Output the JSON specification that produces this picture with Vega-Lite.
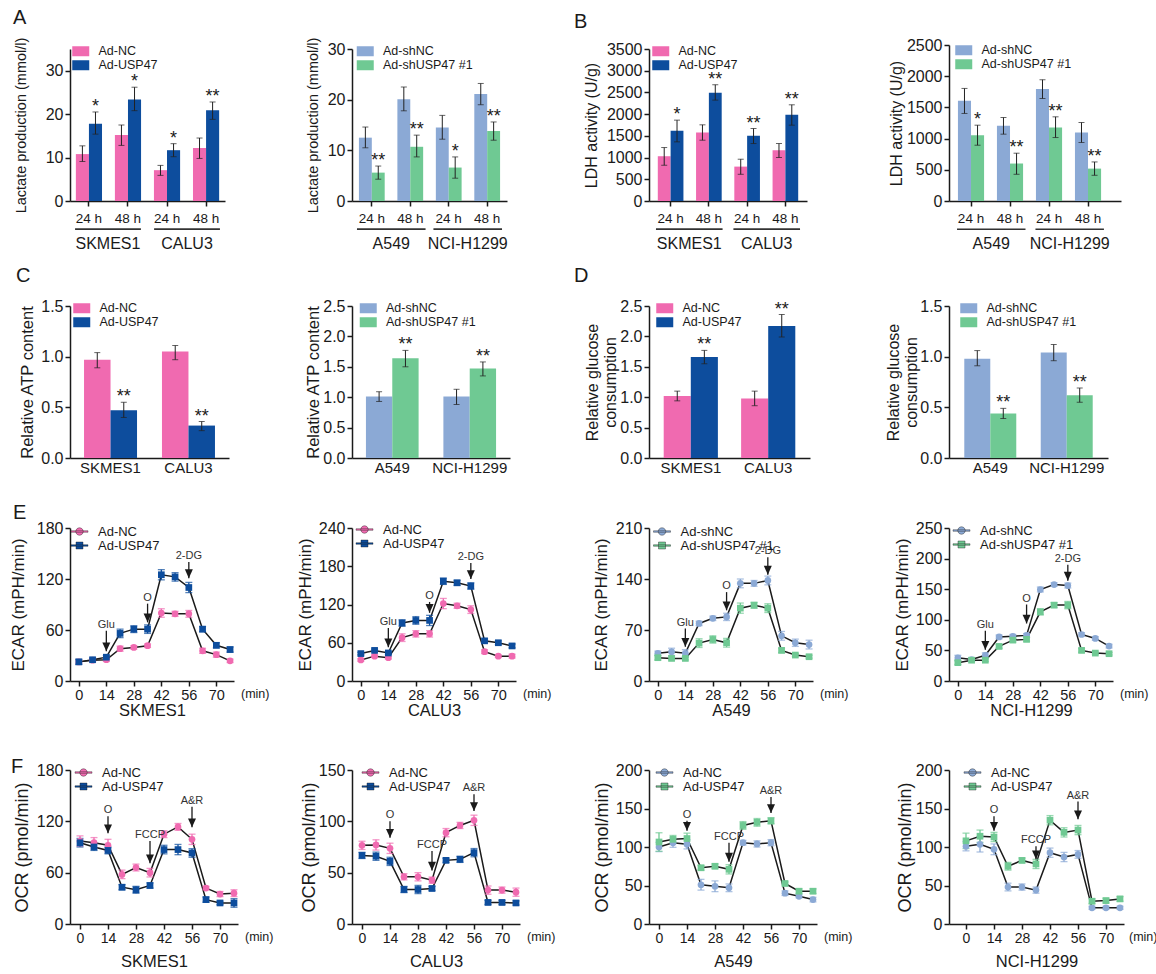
{
"$schema":"https://vega.github.io/schema/vega-lite/v6.json",
"background":"white",
"padding":{"left":9,"top":8,"right":0,"bottom":0},
"config":{
 "font":"Liberation Sans",
 "view":{"stroke":null},
 "axis":{"domainColor":"#1a1a1a","tickColor":"#1a1a1a","labelColor":"#1a1a1a","titleColor":"#1a1a1a","titleFontWeight":"normal","grid":false,"domainWidth":1.5,"tickWidth":1.5,"tickSize":5,"labelPadding":2,"labelFont":"Liberation Sans","titleFont":"Liberation Sans"},
 "axisX":{"labelOverlap":false},
 "legend":{"labelColor":"#1a1a1a","labelFont":"Liberation Sans","padding":0},
 "title":{"fontSize":20,"fontWeight":"normal","anchor":"start","frame":"group","offset":0,"baseline":"alphabetic","color":"#1a1a1a","align":"left"},
 "text":{"font":"Liberation Sans"}
},
"datasets":{
 "A1":[
  {"cat":"SKMES1 24 h","grp":"Ad-NC","mean":10.8,"lo":9.1,"hi":12.7,"sig":""},
  {"cat":"SKMES1 24 h","grp":"Ad-USP47","mean":17.8,"lo":15.4,"hi":20.5,"sig":"*"},
  {"cat":"SKMES1 48 h","grp":"Ad-NC","mean":15.2,"lo":12.8,"hi":17.5,"sig":""},
  {"cat":"SKMES1 48 h","grp":"Ad-USP47","mean":23.4,"lo":20.8,"hi":26.2,"sig":"*"},
  {"cat":"CALU3 24 h","grp":"Ad-NC","mean":7.1,"lo":5.9,"hi":8.2,"sig":""},
  {"cat":"CALU3 24 h","grp":"Ad-USP47","mean":11.7,"lo":10.2,"hi":13.2,"sig":"*"},
  {"cat":"CALU3 48 h","grp":"Ad-NC","mean":12.2,"lo":9.8,"hi":14.5,"sig":""},
  {"cat":"CALU3 48 h","grp":"Ad-USP47","mean":20.9,"lo":18.8,"hi":22.8,"sig":"**"}
 ],
 "A2":[
  {"cat":"A549 24 h","grp":"Ad-shNC","mean":12.5,"lo":10.5,"hi":14.6,"sig":""},
  {"cat":"A549 24 h","grp":"Ad-shUSP47 #1","mean":5.6,"lo":4.3,"hi":6.9,"sig":"**"},
  {"cat":"A549 48 h","grp":"Ad-shNC","mean":20.1,"lo":17.8,"hi":22.5,"sig":""},
  {"cat":"A549 48 h","grp":"Ad-shUSP47 #1","mean":10.7,"lo":8.7,"hi":13.0,"sig":"**"},
  {"cat":"NCI-H1299 24 h","grp":"Ad-shNC","mean":14.5,"lo":12.2,"hi":16.9,"sig":""},
  {"cat":"NCI-H1299 24 h","grp":"Ad-shUSP47 #1","mean":6.6,"lo":4.5,"hi":8.7,"sig":"*"},
  {"cat":"NCI-H1299 48 h","grp":"Ad-shNC","mean":21.1,"lo":19.0,"hi":23.2,"sig":""},
  {"cat":"NCI-H1299 48 h","grp":"Ad-shUSP47 #1","mean":13.8,"lo":12.0,"hi":15.6,"sig":"**"}
 ],
 "B1":[
  {"cat":"SKMES1 24 h","grp":"Ad-NC","mean":1031,"lo":823,"hi":1231,"sig":""},
  {"cat":"SKMES1 24 h","grp":"Ad-USP47","mean":1615,"lo":1362,"hi":1862,"sig":"*"},
  {"cat":"SKMES1 48 h","grp":"Ad-NC","mean":1577,"lo":1400,"hi":1754,"sig":""},
  {"cat":"SKMES1 48 h","grp":"Ad-USP47","mean":2492,"lo":2323,"hi":2677,"sig":"**"},
  {"cat":"CALU3 24 h","grp":"Ad-NC","mean":792,"lo":615,"hi":962,"sig":""},
  {"cat":"CALU3 24 h","grp":"Ad-USP47","mean":1500,"lo":1323,"hi":1669,"sig":"**"},
  {"cat":"CALU3 48 h","grp":"Ad-NC","mean":1169,"lo":1000,"hi":1323,"sig":""},
  {"cat":"CALU3 48 h","grp":"Ad-USP47","mean":1985,"lo":1746,"hi":2215,"sig":"**"}
 ],
 "B2":[
  {"cat":"A549 24 h","grp":"Ad-shNC","mean":1606,"lo":1403,"hi":1804,"sig":""},
  {"cat":"A549 24 h","grp":"Ad-shUSP47 #1","mean":1055,"lo":894,"hi":1215,"sig":"*"},
  {"cat":"A549 48 h","grp":"Ad-shNC","mean":1204,"lo":1071,"hi":1338,"sig":""},
  {"cat":"A549 48 h","grp":"Ad-shUSP47 #1","mean":600,"lo":428,"hi":766,"sig":"**"},
  {"cat":"NCI-H1299 24 h","grp":"Ad-shNC","mean":1793,"lo":1643,"hi":1943,"sig":""},
  {"cat":"NCI-H1299 24 h","grp":"Ad-shUSP47 #1","mean":1178,"lo":1017,"hi":1349,"sig":"**"},
  {"cat":"NCI-H1299 48 h","grp":"Ad-shNC","mean":1097,"lo":937,"hi":1258,"sig":""},
  {"cat":"NCI-H1299 48 h","grp":"Ad-shUSP47 #1","mean":519,"lo":412,"hi":626,"sig":"**"}
 ],
 "C1":[
  {"cell":"SKMES1","grp":"Ad-NC","mean":0.97,"lo":0.89,"hi":1.04,"sig":""},
  {"cell":"SKMES1","grp":"Ad-USP47","mean":0.47,"lo":0.40,"hi":0.55,"sig":"**"},
  {"cell":"CALU3","grp":"Ad-NC","mean":1.05,"lo":0.97,"hi":1.11,"sig":""},
  {"cell":"CALU3","grp":"Ad-USP47","mean":0.32,"lo":0.27,"hi":0.36,"sig":"**"}
 ],
 "C2":[
  {"cell":"A549","grp":"Ad-shNC","mean":1.01,"lo":0.93,"hi":1.09,"sig":""},
  {"cell":"A549","grp":"Ad-shUSP47 #1","mean":1.64,"lo":1.50,"hi":1.77,"sig":"**"},
  {"cell":"NCI-H1299","grp":"Ad-shNC","mean":1.01,"lo":0.88,"hi":1.13,"sig":""},
  {"cell":"NCI-H1299","grp":"Ad-shUSP47 #1","mean":1.47,"lo":1.35,"hi":1.58,"sig":"**"}
 ],
 "D1":[
  {"cell":"SKMES1","grp":"Ad-NC","mean":1.02,"lo":0.94,"hi":1.10,"sig":""},
  {"cell":"SKMES1","grp":"Ad-USP47","mean":1.66,"lo":1.55,"hi":1.77,"sig":"**"},
  {"cell":"CALU3","grp":"Ad-NC","mean":0.98,"lo":0.86,"hi":1.10,"sig":""},
  {"cell":"CALU3","grp":"Ad-USP47","mean":2.17,"lo":1.99,"hi":2.36,"sig":"**"}
 ],
 "D2":[
  {"cell":"A549","grp":"Ad-shNC","mean":0.98,"lo":0.91,"hi":1.06,"sig":""},
  {"cell":"A549","grp":"Ad-shUSP47 #1","mean":0.44,"lo":0.39,"hi":0.49,"sig":"**"},
  {"cell":"NCI-H1299","grp":"Ad-shNC","mean":1.04,"lo":0.96,"hi":1.12,"sig":""},
  {"cell":"NCI-H1299","grp":"Ad-shUSP47 #1","mean":0.62,"lo":0.55,"hi":0.69,"sig":"**"}
 ],
 "E1":[
  {"t":0,"s":"Ad-NC","m":22.5,"lo":20.5,"hi":24.5},{"t":7,"s":"Ad-NC","m":24.5,"lo":22.5,"hi":26.5},{"t":14,"s":"Ad-NC","m":25,"lo":23,"hi":27},{"t":21,"s":"Ad-NC","m":38,"lo":35,"hi":41},{"t":28,"s":"Ad-NC","m":39.5,"lo":37.5,"hi":41.5},{"t":35,"s":"Ad-NC","m":41.5,"lo":39.5,"hi":43.5},{"t":42,"s":"Ad-NC","m":80,"lo":75,"hi":85},{"t":49,"s":"Ad-NC","m":79,"lo":76,"hi":82},{"t":56,"s":"Ad-NC","m":79,"lo":75,"hi":83},{"t":63,"s":"Ad-NC","m":35.5,"lo":32.5,"hi":38.5},{"t":70,"s":"Ad-NC","m":31,"lo":28,"hi":34},{"t":77,"s":"Ad-NC","m":23.7,"lo":21.7,"hi":25.7},
  {"t":0,"s":"Ad-USP47","m":22.5,"lo":19.5,"hi":25.5},{"t":7,"s":"Ad-USP47","m":25,"lo":23,"hi":27},{"t":14,"s":"Ad-USP47","m":28,"lo":26,"hi":30},{"t":21,"s":"Ad-USP47","m":56,"lo":51,"hi":61},{"t":28,"s":"Ad-USP47","m":61,"lo":57,"hi":65},{"t":35,"s":"Ad-USP47","m":61,"lo":56,"hi":66},{"t":42,"s":"Ad-USP47","m":125,"lo":119,"hi":131},{"t":49,"s":"Ad-USP47","m":122.5,"lo":117.5,"hi":127.5},{"t":56,"s":"Ad-USP47","m":110,"lo":104,"hi":116},{"t":63,"s":"Ad-USP47","m":61,"lo":58,"hi":64},{"t":70,"s":"Ad-USP47","m":42,"lo":39,"hi":45},{"t":77,"s":"Ad-USP47","m":37,"lo":34,"hi":40}
 ],
 "E2":[
  {"t":0,"s":"Ad-NC","m":33,"lo":31,"hi":35},{"t":7,"s":"Ad-NC","m":39,"lo":37,"hi":41},{"t":14,"s":"Ad-NC","m":36.5,"lo":34.5,"hi":38.5},{"t":21,"s":"Ad-NC","m":68,"lo":62,"hi":74},{"t":28,"s":"Ad-NC","m":74,"lo":69,"hi":79},{"t":35,"s":"Ad-NC","m":74,"lo":69,"hi":79},{"t":42,"s":"Ad-NC","m":121.5,"lo":113.5,"hi":129.5},{"t":49,"s":"Ad-NC","m":118,"lo":114,"hi":122},{"t":56,"s":"Ad-NC","m":112,"lo":106,"hi":118},{"t":63,"s":"Ad-NC","m":46,"lo":43,"hi":49},{"t":70,"s":"Ad-NC","m":39,"lo":37,"hi":41},{"t":77,"s":"Ad-NC","m":39,"lo":36,"hi":42},
  {"t":0,"s":"Ad-USP47","m":43,"lo":41,"hi":45},{"t":7,"s":"Ad-USP47","m":48,"lo":46,"hi":50},{"t":14,"s":"Ad-USP47","m":44,"lo":42,"hi":46},{"t":21,"s":"Ad-USP47","m":91,"lo":86,"hi":96},{"t":28,"s":"Ad-USP47","m":95,"lo":89,"hi":101},{"t":35,"s":"Ad-USP47","m":95,"lo":87,"hi":103},{"t":42,"s":"Ad-USP47","m":156.5,"lo":151.5,"hi":161.5},{"t":49,"s":"Ad-USP47","m":154,"lo":150,"hi":158},{"t":56,"s":"Ad-USP47","m":149,"lo":144,"hi":154},{"t":63,"s":"Ad-USP47","m":63,"lo":60,"hi":66},{"t":70,"s":"Ad-USP47","m":60,"lo":57,"hi":63},{"t":77,"s":"Ad-USP47","m":55,"lo":52,"hi":58}
 ],
 "E3":[
  {"t":0,"s":"Ad-shNC","m":38,"lo":35,"hi":41},{"t":7,"s":"Ad-shNC","m":40,"lo":35,"hi":45},{"t":14,"s":"Ad-shNC","m":38,"lo":33,"hi":43},{"t":21,"s":"Ad-shNC","m":79,"lo":76,"hi":82},{"t":28,"s":"Ad-shNC","m":86,"lo":83,"hi":89},{"t":35,"s":"Ad-shNC","m":88,"lo":83,"hi":93},{"t":42,"s":"Ad-shNC","m":134,"lo":128,"hi":140},{"t":49,"s":"Ad-shNC","m":134,"lo":130,"hi":138},{"t":56,"s":"Ad-shNC","m":138,"lo":132,"hi":144},{"t":63,"s":"Ad-shNC","m":62,"lo":56,"hi":68},{"t":70,"s":"Ad-shNC","m":52.5,"lo":47.5,"hi":57.5},{"t":77,"s":"Ad-shNC","m":50,"lo":44,"hi":56},
  {"t":0,"s":"Ad-shUSP47 #1","m":32,"lo":29,"hi":35},{"t":7,"s":"Ad-shUSP47 #1","m":31,"lo":29,"hi":33},{"t":14,"s":"Ad-shUSP47 #1","m":31,"lo":29,"hi":33},{"t":21,"s":"Ad-shUSP47 #1","m":52,"lo":46,"hi":58},{"t":28,"s":"Ad-shUSP47 #1","m":57,"lo":52,"hi":62},{"t":35,"s":"Ad-shUSP47 #1","m":52.5,"lo":46.5,"hi":58.5},{"t":42,"s":"Ad-shUSP47 #1","m":100,"lo":93,"hi":107},{"t":49,"s":"Ad-shUSP47 #1","m":104,"lo":100,"hi":108},{"t":56,"s":"Ad-shUSP47 #1","m":100,"lo":94,"hi":106},{"t":63,"s":"Ad-shUSP47 #1","m":42,"lo":39,"hi":45},{"t":70,"s":"Ad-shUSP47 #1","m":35.6,"lo":33.6,"hi":37.6},{"t":77,"s":"Ad-shUSP47 #1","m":33.3,"lo":31.3,"hi":35.3}
 ],
 "E4":[
  {"t":0,"s":"Ad-shNC","m":38,"lo":34,"hi":42},{"t":7,"s":"Ad-shNC","m":35,"lo":32,"hi":38},{"t":14,"s":"Ad-shNC","m":42,"lo":38,"hi":46},{"t":21,"s":"Ad-shNC","m":72,"lo":69,"hi":75},{"t":28,"s":"Ad-shNC","m":73,"lo":70,"hi":76},{"t":35,"s":"Ad-shNC","m":74.5,"lo":71.5,"hi":77.5},{"t":42,"s":"Ad-shNC","m":149.5,"lo":145.5,"hi":153.5},{"t":49,"s":"Ad-shNC","m":157.6,"lo":154.6,"hi":160.6},{"t":56,"s":"Ad-shNC","m":156,"lo":152,"hi":160},{"t":63,"s":"Ad-shNC","m":76,"lo":73,"hi":79},{"t":70,"s":"Ad-shNC","m":69.5,"lo":66.5,"hi":72.5},{"t":77,"s":"Ad-shNC","m":57,"lo":54,"hi":60},
  {"t":0,"s":"Ad-shUSP47 #1","m":30,"lo":27,"hi":33},{"t":7,"s":"Ad-shUSP47 #1","m":34,"lo":32,"hi":36},{"t":14,"s":"Ad-shUSP47 #1","m":34,"lo":32,"hi":36},{"t":21,"s":"Ad-shUSP47 #1","m":56.5,"lo":53.5,"hi":59.5},{"t":28,"s":"Ad-shUSP47 #1","m":66.8,"lo":63.8,"hi":69.8},{"t":35,"s":"Ad-shUSP47 #1","m":68,"lo":65,"hi":71},{"t":42,"s":"Ad-shUSP47 #1","m":113,"lo":108,"hi":118},{"t":49,"s":"Ad-shUSP47 #1","m":124,"lo":120,"hi":128},{"t":56,"s":"Ad-shUSP47 #1","m":124,"lo":118,"hi":130},{"t":63,"s":"Ad-shUSP47 #1","m":50,"lo":47,"hi":53},{"t":70,"s":"Ad-shUSP47 #1","m":45.6,"lo":43.6,"hi":47.6},{"t":77,"s":"Ad-shUSP47 #1","m":44.6,"lo":42.6,"hi":46.6}
 ],
 "F1":[
  {"t":0,"s":"Ad-NC","m":97,"lo":91,"hi":103},{"t":7,"s":"Ad-NC","m":95,"lo":89,"hi":101},{"t":14,"s":"Ad-NC","m":92,"lo":85,"hi":99},{"t":21,"s":"Ad-NC","m":58,"lo":53,"hi":63},{"t":28,"s":"Ad-NC","m":66,"lo":62,"hi":70},{"t":35,"s":"Ad-NC","m":60,"lo":55,"hi":65},{"t":42,"s":"Ad-NC","m":105,"lo":101,"hi":109},{"t":49,"s":"Ad-NC","m":113.5,"lo":109.5,"hi":117.5},{"t":56,"s":"Ad-NC","m":99,"lo":93,"hi":105},{"t":63,"s":"Ad-NC","m":42,"lo":40,"hi":44},{"t":70,"s":"Ad-NC","m":35,"lo":32,"hi":38},{"t":77,"s":"Ad-NC","m":36,"lo":32,"hi":40},
  {"t":0,"s":"Ad-USP47","m":95,"lo":90,"hi":100},{"t":7,"s":"Ad-USP47","m":90,"lo":86,"hi":94},{"t":14,"s":"Ad-USP47","m":86,"lo":82,"hi":90},{"t":21,"s":"Ad-USP47","m":43,"lo":40,"hi":46},{"t":28,"s":"Ad-USP47","m":40,"lo":36,"hi":44},{"t":35,"s":"Ad-USP47","m":45,"lo":42,"hi":48},{"t":42,"s":"Ad-USP47","m":87,"lo":82,"hi":92},{"t":49,"s":"Ad-USP47","m":87,"lo":81,"hi":93},{"t":56,"s":"Ad-USP47","m":83,"lo":78,"hi":88},{"t":63,"s":"Ad-USP47","m":28.5,"lo":25.5,"hi":31.5},{"t":70,"s":"Ad-USP47","m":24.6,"lo":22.6,"hi":26.6},{"t":77,"s":"Ad-USP47","m":24.6,"lo":19.6,"hi":29.6}
 ],
 "F2":[
  {"t":0,"s":"Ad-NC","m":76.6,"lo":72.6,"hi":80.6},{"t":7,"s":"Ad-NC","m":77,"lo":72,"hi":82},{"t":14,"s":"Ad-NC","m":73.7,"lo":68.7,"hi":78.7},{"t":21,"s":"Ad-NC","m":46,"lo":43,"hi":49},{"t":28,"s":"Ad-NC","m":46,"lo":42,"hi":50},{"t":35,"s":"Ad-NC","m":42.7,"lo":39.7,"hi":45.7},{"t":42,"s":"Ad-NC","m":89,"lo":85,"hi":93},{"t":49,"s":"Ad-NC","m":96,"lo":93,"hi":99},{"t":56,"s":"Ad-NC","m":101,"lo":96,"hi":106},{"t":63,"s":"Ad-NC","m":33,"lo":29,"hi":37},{"t":70,"s":"Ad-NC","m":33,"lo":30,"hi":36},{"t":77,"s":"Ad-NC","m":31,"lo":27,"hi":35},
  {"t":0,"s":"Ad-USP47","m":66.8,"lo":63.8,"hi":69.8},{"t":7,"s":"Ad-USP47","m":66,"lo":62,"hi":70},{"t":14,"s":"Ad-USP47","m":61,"lo":57,"hi":65},{"t":21,"s":"Ad-USP47","m":33.6,"lo":30.6,"hi":36.6},{"t":28,"s":"Ad-USP47","m":33.6,"lo":29.6,"hi":37.6},{"t":35,"s":"Ad-USP47","m":34.6,"lo":32.6,"hi":36.6},{"t":42,"s":"Ad-USP47","m":62,"lo":60,"hi":64},{"t":49,"s":"Ad-USP47","m":63,"lo":60,"hi":66},{"t":56,"s":"Ad-USP47","m":69.5,"lo":65.5,"hi":73.5},{"t":63,"s":"Ad-USP47","m":21,"lo":19,"hi":23},{"t":70,"s":"Ad-USP47","m":21,"lo":19,"hi":23},{"t":77,"s":"Ad-USP47","m":20.5,"lo":18.5,"hi":22.5}
 ],
 "F3":[
  {"t":0,"s":"Ad-NC","m":100,"lo":94,"hi":106},{"t":7,"s":"Ad-NC","m":105.6,"lo":99.6,"hi":111.6},{"t":14,"s":"Ad-NC","m":103.5,"lo":97.5,"hi":109.5},{"t":21,"s":"Ad-NC","m":51,"lo":44,"hi":58},{"t":28,"s":"Ad-NC","m":49,"lo":42,"hi":56},{"t":35,"s":"Ad-NC","m":47,"lo":42,"hi":52},{"t":42,"s":"Ad-NC","m":105.6,"lo":102.6,"hi":108.6},{"t":49,"s":"Ad-NC","m":104,"lo":100,"hi":108},{"t":56,"s":"Ad-NC","m":105.6,"lo":101.6,"hi":109.6},{"t":63,"s":"Ad-NC","m":40,"lo":37,"hi":43},{"t":70,"s":"Ad-NC","m":36,"lo":34,"hi":38},{"t":77,"s":"Ad-NC","m":31.7,"lo":28.7,"hi":34.7},
  {"t":0,"s":"Ad-USP47","m":106.5,"lo":94.5,"hi":118.5},{"t":7,"s":"Ad-USP47","m":110,"lo":105,"hi":115},{"t":14,"s":"Ad-USP47","m":111,"lo":104,"hi":118},{"t":21,"s":"Ad-USP47","m":73,"lo":70,"hi":76},{"t":28,"s":"Ad-USP47","m":75,"lo":72,"hi":78},{"t":35,"s":"Ad-USP47","m":71,"lo":65,"hi":77},{"t":42,"s":"Ad-USP47","m":128,"lo":123,"hi":133},{"t":49,"s":"Ad-USP47","m":132,"lo":127,"hi":137},{"t":56,"s":"Ad-USP47","m":134,"lo":130,"hi":138},{"t":63,"s":"Ad-USP47","m":52.6,"lo":50.6,"hi":54.6},{"t":70,"s":"Ad-USP47","m":42.6,"lo":39.6,"hi":45.6},{"t":77,"s":"Ad-USP47","m":42.6,"lo":39.6,"hi":45.6}
 ],
 "F4":[
  {"t":0,"s":"Ad-NC","m":101,"lo":95,"hi":107},{"t":7,"s":"Ad-NC","m":103.5,"lo":93.5,"hi":113.5},{"t":14,"s":"Ad-NC","m":97,"lo":90,"hi":104},{"t":21,"s":"Ad-NC","m":48,"lo":43,"hi":53},{"t":28,"s":"Ad-NC","m":48,"lo":44,"hi":52},{"t":35,"s":"Ad-NC","m":44,"lo":40,"hi":48},{"t":42,"s":"Ad-NC","m":92.6,"lo":86.6,"hi":98.6},{"t":49,"s":"Ad-NC","m":87,"lo":81,"hi":93},{"t":56,"s":"Ad-NC","m":90.4,"lo":85.4,"hi":95.4},{"t":63,"s":"Ad-NC","m":21,"lo":19,"hi":23},{"t":70,"s":"Ad-NC","m":21,"lo":19,"hi":23},{"t":77,"s":"Ad-NC","m":21,"lo":19,"hi":23},
  {"t":0,"s":"Ad-USP47","m":108,"lo":98,"hi":118},{"t":7,"s":"Ad-USP47","m":114,"lo":106,"hi":122},{"t":14,"s":"Ad-USP47","m":113,"lo":107,"hi":119},{"t":21,"s":"Ad-USP47","m":75,"lo":70,"hi":80},{"t":28,"s":"Ad-USP47","m":82.6,"lo":79.6,"hi":85.6},{"t":35,"s":"Ad-USP47","m":78,"lo":72,"hi":84},{"t":42,"s":"Ad-USP47","m":134.8,"lo":128.8,"hi":140.8},{"t":49,"s":"Ad-USP47","m":119,"lo":113,"hi":125},{"t":56,"s":"Ad-USP47","m":122,"lo":116,"hi":128},{"t":63,"s":"Ad-USP47","m":29.6,"lo":26.6,"hi":32.6},{"t":70,"s":"Ad-USP47","m":30.4,"lo":27.4,"hi":33.4},{"t":77,"s":"Ad-USP47","m":32.6,"lo":29.6,"hi":35.6}
 ],
 "E1a":[{"t":14,"label":"Glu","ytop":59,"ybot":35},{"t":35,"label":"O","ytop":91,"ybot":69},{"t":56,"label":"2-DG","ytop":140,"ybot":121}],
 "E2a":[{"t":14,"label":"Glu","ytop":83,"ybot":53},{"t":35,"label":"O","ytop":124,"ybot":107},{"t":56,"label":"2-DG","ytop":185,"ybot":160}],
 "E3a":[{"t":14,"label":"Glu","ytop":72,"ybot":47},{"t":35,"label":"O","ytop":122,"ybot":97},{"t":56,"label":"2-DG","ytop":170,"ybot":146}],
 "E4a":[{"t":14,"label":"Glu","ytop":82,"ybot":51},{"t":35,"label":"O","ytop":125,"ybot":94},{"t":56,"label":"2-DG","ytop":190,"ybot":164}],
 "F1a":[{"t":14,"label":"O","ytop":126,"ybot":106},{"t":35,"label":"FCCP","ytop":97,"ybot":71},{"t":56,"label":"A&R","ytop":137,"ybot":113}],
 "F2a":[{"t":14,"label":"O","ytop":100,"ybot":84},{"t":35,"label":"FCCP","ytop":71,"ybot":52},{"t":56,"label":"A&R","ytop":126.5,"ybot":110}],
 "F3a":[{"t":14,"label":"O","ytop":134,"ybot":121},{"t":35,"label":"FCCP","ytop":105.6,"ybot":81},{"t":56,"label":"A&R","ytop":165,"ybot":144}],
 "F4a":[{"t":14,"label":"O","ytop":140,"ybot":121},{"t":35,"label":"FCCP","ytop":101,"ybot":84},{"t":56,"label":"A&R","ytop":159,"ybot":136}]
},
"columns":4,
"spacing":{"row":0,"column":0},
"bounds":"flush",
"align":"each",
"resolve":{"scale":{"color":"independent","shape":"independent","xOffset":"independent"},"legend":{"color":"independent","shape":"independent"}},
"concat":[
 {
  "width":282,"height":156,
  "title":{"text":"A","dx":-57,"dy":-5},
  "layer":[
   {
    "data":{"name":"A1"},
    "encoding":{
     "x":{"field":"cat","type":"nominal","scale":{"domain":["SKMES1 24 h","SKMES1 48 h","CALU3 24 h","CALU3 48 h"],"range":[0,155],"paddingInner":0.33,"paddingOuter":0.15},"axis":{"orient":"bottom","title":null,"labelExpr":"slice(datum.label, -4)","labelAngle":0,"labelFontSize":13.5,"labelPadding":5}},
     "xOffset":{"field":"grp","type":"nominal","scale":{"domain":["Ad-NC","Ad-USP47"]}}
    },
    "layer":[
     {"mark":{"type":"bar"},"encoding":{"y":{"field":"mean","type":"quantitative","scale":{"domain":[0,35],"range":[156,4],"nice":false},"axis":{"values":[0,10,20,30],"tickCount":20,"title":"Lactate production (mmol/l)","titleFontSize":14.5,"labelFontSize":16,"minExtent":41.5,"maxExtent":41.5,"titlePadding":0}},"color":{"field":"grp","type":"nominal","scale":{"domain":["Ad-NC","Ad-USP47"],"range":["#F06AB0","#0D4D9D"]},"legend":{"orient":"none","legendX":4.5,"legendY":0,"title":null,"symbolType":"M-1.7,-1H1.7V1H-1.7Z","symbolSize":100,"labelFontSize":12.5,"labelOffset":11.5,"rowPadding":1,"symbolStrokeWidth":0}}}},
     {"mark":{"type":"rule","color":"#222","strokeWidth":1},"encoding":{"y":{"field":"lo","type":"quantitative"},"y2":{"field":"hi"}}},
     {"mark":{"type":"tick","orient":"horizontal","size":6,"thickness":1,"color":"#222"},"encoding":{"y":{"field":"lo","type":"quantitative"}}},
     {"mark":{"type":"tick","orient":"horizontal","size":6,"thickness":1,"color":"#222"},"encoding":{"y":{"field":"hi","type":"quantitative"}}},
     {"mark":{"type":"text","baseline":"alphabetic","fontSize":18,"color":"#1a1a1a"},"encoding":{"y":{"field":"hi","type":"quantitative"},"text":{"field":"sig"}}}
    ]
   },
   {
    "data":{"values":[{"cell":"SKMES1"},{"cell":"CALU3"}]},
    "mark":{"type":"bar","color":"#333"},
    "encoding":{
     "x":{"field":"cell","type":"nominal","scale":{"domain":["SKMES1","CALU3"],"range":[0,155],"paddingInner":0.167,"paddingOuter":0.064},"axis":{"orient":"bottom","title":null,"domain":false,"ticks":false,"tickSize":0,"labelPadding":34,"labelAngle":0,"labelFontSize":16}},
     "y":{"datum":-6.3},"y2":{"datum":-6.65}
    }
   }
  ],
  "resolve":{"scale":{"x":"independent"},"axis":{"x":"independent"}}
 },
 {
  "width":297,"height":156,
  "layer":[
   {
    "data":{"name":"A2"},
    "encoding":{
     "x":{"field":"cat","type":"nominal","scale":{"domain":["A549 24 h","A549 48 h","NCI-H1299 24 h","NCI-H1299 48 h"],"range":[0,155],"paddingInner":0.33,"paddingOuter":0.18},"axis":{"orient":"bottom","title":null,"labelExpr":"slice(datum.label, -4)","labelAngle":0,"labelFontSize":13.5,"labelPadding":5}},
     "xOffset":{"field":"grp","type":"nominal","scale":{"domain":["Ad-shNC","Ad-shUSP47 #1"]}}
    },
    "layer":[
     {"mark":{"type":"bar"},"encoding":{"y":{"field":"mean","type":"quantitative","scale":{"domain":[0,30],"range":[156,4],"nice":false},"axis":{"values":[0,10,20,30],"tickCount":20,"title":"Lactate production (mmol/l)","titleFontSize":14.5,"labelFontSize":16,"minExtent":32,"maxExtent":32,"titlePadding":0}},"color":{"field":"grp","type":"nominal","scale":{"domain":["Ad-shNC","Ad-shUSP47 #1"],"range":["#8BA9D5","#6FC993"]},"legend":{"orient":"none","legendX":7,"legendY":0,"title":null,"symbolType":"M-1.7,-1H1.7V1H-1.7Z","symbolSize":100,"labelFontSize":12.5,"labelOffset":11.5,"rowPadding":1,"symbolStrokeWidth":0}}}},
     {"mark":{"type":"rule","color":"#222","strokeWidth":1},"encoding":{"y":{"field":"lo","type":"quantitative"},"y2":{"field":"hi"}}},
     {"mark":{"type":"tick","orient":"horizontal","size":6,"thickness":1,"color":"#222"},"encoding":{"y":{"field":"lo","type":"quantitative"}}},
     {"mark":{"type":"tick","orient":"horizontal","size":6,"thickness":1,"color":"#222"},"encoding":{"y":{"field":"hi","type":"quantitative"}}},
     {"mark":{"type":"text","baseline":"alphabetic","fontSize":18,"color":"#1a1a1a"},"encoding":{"y":{"field":"hi","type":"quantitative"},"text":{"field":"sig"}}}
    ]
   },
   {
    "data":{"values":[{"cell":"A549"},{"cell":"NCI-H1299"}]},
    "mark":{"type":"bar","color":"#333"},
    "encoding":{
     "x":{"field":"cell","type":"nominal","scale":{"domain":["A549","NCI-H1299"],"range":[0,155],"paddingInner":0.103,"paddingOuter":0.065},"axis":{"orient":"bottom","title":null,"domain":false,"ticks":false,"tickSize":0,"labelPadding":34,"labelAngle":0,"labelFontSize":16}},
     "y":{"datum":-5.4},"y2":{"datum":-5.7}
    }
   }
  ],
  "resolve":{"scale":{"x":"independent"},"axis":{"x":"independent"}}
 },
 {
  "width":300,"height":156,
  "title":{"text":"B","dx":-75,"dy":-5},
  "layer":[
   {
    "data":{"name":"B1"},
    "encoding":{
     "x":{"field":"cat","type":"nominal","scale":{"domain":["SKMES1 24 h","SKMES1 48 h","CALU3 24 h","CALU3 48 h"],"range":[0,158],"paddingInner":0.33,"paddingOuter":0.23},"axis":{"orient":"bottom","title":null,"labelExpr":"slice(datum.label, -4)","labelAngle":0,"labelFontSize":13.5,"labelPadding":5}},
     "xOffset":{"field":"grp","type":"nominal","scale":{"domain":["Ad-NC","Ad-USP47"]}}
    },
    "layer":[
     {"mark":{"type":"bar"},"encoding":{"y":{"field":"mean","type":"quantitative","scale":{"domain":[0,3500],"range":[156,4],"nice":false},"axis":{"values":[0,500,1000,1500,2000,2500,3000,3500],"tickCount":20,"format":"d","title":"LDH activity (U/g)","titleFontSize":16,"labelFontSize":16,"minExtent":50,"maxExtent":50,"titlePadding":0}},"color":{"field":"grp","type":"nominal","scale":{"domain":["Ad-NC","Ad-USP47"],"range":["#F06AB0","#0D4D9D"]},"legend":{"orient":"none","legendX":5.5,"legendY":0,"title":null,"symbolType":"M-1.7,-1H1.7V1H-1.7Z","symbolSize":100,"labelFontSize":12.5,"labelOffset":11.5,"rowPadding":1,"symbolStrokeWidth":0}}}},
     {"mark":{"type":"rule","color":"#222","strokeWidth":1},"encoding":{"y":{"field":"lo","type":"quantitative"},"y2":{"field":"hi"}}},
     {"mark":{"type":"tick","orient":"horizontal","size":6,"thickness":1,"color":"#222"},"encoding":{"y":{"field":"lo","type":"quantitative"}}},
     {"mark":{"type":"tick","orient":"horizontal","size":6,"thickness":1,"color":"#222"},"encoding":{"y":{"field":"hi","type":"quantitative"}}},
     {"mark":{"type":"text","baseline":"alphabetic","fontSize":18,"color":"#1a1a1a"},"encoding":{"y":{"field":"hi","type":"quantitative"},"text":{"field":"sig"}}}
    ]
   },
   {
    "data":{"values":[{"cell":"SKMES1"},{"cell":"CALU3"}]},
    "mark":{"type":"bar","color":"#333"},
    "encoding":{
     "x":{"field":"cell","type":"nominal","scale":{"domain":["SKMES1","CALU3"],"range":[0,158],"paddingInner":0.14,"paddingOuter":0.09},"axis":{"orient":"bottom","title":null,"domain":false,"ticks":false,"tickSize":0,"labelPadding":34,"labelAngle":0,"labelFontSize":16}},
     "y":{"datum":-630},"y2":{"datum":-665}
    }
   }
  ],
  "resolve":{"scale":{"x":"independent"},"axis":{"x":"independent"}}
 },
 {
  "width":175,"height":156,
  "layer":[
   {
    "data":{"name":"B2"},
    "encoding":{
     "x":{"field":"cat","type":"nominal","scale":{"domain":["A549 24 h","A549 48 h","NCI-H1299 24 h","NCI-H1299 48 h"],"range":[0,172],"paddingInner":0.33,"paddingOuter":0.37,"align":0.31},"axis":{"orient":"bottom","title":null,"labelExpr":"slice(datum.label, -4)","labelAngle":0,"labelFontSize":13.5,"labelPadding":5}},
     "xOffset":{"field":"grp","type":"nominal","scale":{"domain":["Ad-shNC","Ad-shUSP47 #1"]}}
    },
    "layer":[
     {"mark":{"type":"bar"},"encoding":{"y":{"field":"mean","type":"quantitative","scale":{"domain":[0,2500],"range":[156,0],"nice":false},"axis":{"values":[0,500,1000,1500,2000,2500],"tickCount":20,"format":"d","title":"LDH activity (U/g)","titleFontSize":16,"labelFontSize":16,"minExtent":45,"maxExtent":45,"titlePadding":0}},"color":{"field":"grp","type":"nominal","scale":{"domain":["Ad-shNC","Ad-shUSP47 #1"],"range":["#8BA9D5","#6FC993"]},"legend":{"orient":"none","legendX":8.5,"legendY":-1,"title":null,"symbolType":"M-1.7,-1H1.7V1H-1.7Z","symbolSize":100,"labelFontSize":12.5,"labelOffset":11.5,"rowPadding":1,"symbolStrokeWidth":0}}}},
     {"mark":{"type":"rule","color":"#222","strokeWidth":1},"encoding":{"y":{"field":"lo","type":"quantitative"},"y2":{"field":"hi"}}},
     {"mark":{"type":"tick","orient":"horizontal","size":6,"thickness":1,"color":"#222"},"encoding":{"y":{"field":"lo","type":"quantitative"}}},
     {"mark":{"type":"tick","orient":"horizontal","size":6,"thickness":1,"color":"#222"},"encoding":{"y":{"field":"hi","type":"quantitative"}}},
     {"mark":{"type":"text","baseline":"alphabetic","fontSize":18,"color":"#1a1a1a"},"encoding":{"y":{"field":"hi","type":"quantitative"},"text":{"field":"sig"}}}
    ]
   },
   {
    "data":{"values":[{"cell":"A549"},{"cell":"NCI-H1299"}]},
    "mark":{"type":"bar","color":"#333"},
    "encoding":{
     "x":{"field":"cell","type":"nominal","scale":{"domain":["A549","NCI-H1299"],"range":[0,172],"paddingInner":0.127,"paddingOuter":0.16,"align":0.32},"axis":{"orient":"bottom","title":null,"domain":false,"ticks":false,"tickSize":0,"labelPadding":34,"labelAngle":0,"labelFontSize":16}},
     "y":{"datum":-440},"y2":{"datum":-464}
    }
   }
  ],
  "resolve":{"scale":{"x":"independent"},"axis":{"x":"independent"}}
 },
 {
  "width":282,"height":257,
  "title":{"text":"C","dx":-54,"dy":89},
  "data":{"name":"C1"},
  "encoding":{
   "x":{"field":"cell","type":"nominal","scale":{"domain":["SKMES1","CALU3"],"range":[0,159],"paddingInner":0.32,"paddingOuter":0.18},"axis":{"title":null,"labelAngle":0,"ticks":false,"labelPadding":2,"labelFontSize":15}},
   "xOffset":{"field":"grp","type":"nominal","scale":{"domain":["Ad-NC","Ad-USP47"]}}
  },
  "layer":[
   {"mark":{"type":"bar"},"encoding":{"y":{"field":"mean","type":"quantitative","scale":{"domain":[0,1.5],"range":[257,105],"nice":false},"axis":{"values":[0,0.5,1,1.5],"tickCount":20,"format":".1f","title":"Relative ATP content","titleFontSize":16.5,"labelFontSize":16,"minExtent":35,"maxExtent":35,"titlePadding":0}},"color":{"field":"grp","type":"nominal","scale":{"domain":["Ad-NC","Ad-USP47"],"range":["#F06AB0","#0D4D9D"]},"legend":{"orient":"none","legendX":5.5,"legendY":101,"title":null,"symbolType":"M-1.7,-1H1.7V1H-1.7Z","symbolSize":100,"labelFontSize":12.5,"labelOffset":11.5,"rowPadding":1,"symbolStrokeWidth":0}}}},
   {"mark":{"type":"rule","color":"#222","strokeWidth":1},"encoding":{"y":{"field":"lo","type":"quantitative"},"y2":{"field":"hi"}}},
   {"mark":{"type":"tick","orient":"horizontal","size":6,"thickness":1,"color":"#222"},"encoding":{"y":{"field":"lo","type":"quantitative"}}},
   {"mark":{"type":"tick","orient":"horizontal","size":6,"thickness":1,"color":"#222"},"encoding":{"y":{"field":"hi","type":"quantitative"}}},
   {"mark":{"type":"text","baseline":"alphabetic","fontSize":18,"color":"#1a1a1a"},"encoding":{"y":{"field":"hi","type":"quantitative"},"text":{"field":"sig"}}}
  ]
 },
 {
  "width":297,"height":257,
  "data":{"name":"C2"},
  "encoding":{
   "x":{"field":"cell","type":"nominal","scale":{"domain":["A549","NCI-H1299"],"range":[0,158],"paddingInner":0.32,"paddingOuter":0.18},"axis":{"title":null,"labelAngle":0,"ticks":false,"labelPadding":2,"labelFontSize":15}},
   "xOffset":{"field":"grp","type":"nominal","scale":{"domain":["Ad-shNC","Ad-shUSP47 #1"]}}
  },
  "layer":[
   {"mark":{"type":"bar"},"encoding":{"y":{"field":"mean","type":"quantitative","scale":{"domain":[0,2.5],"range":[257,105],"nice":false},"axis":{"values":[0,0.5,1,1.5,2,2.5],"tickCount":20,"format":".1f","title":"Relative ATP content","titleFontSize":16.5,"labelFontSize":16,"minExtent":30.5,"maxExtent":30.5,"titlePadding":0}},"color":{"field":"grp","type":"nominal","scale":{"domain":["Ad-shNC","Ad-shUSP47 #1"],"range":["#8BA9D5","#6FC993"]},"legend":{"orient":"none","legendX":10,"legendY":101,"title":null,"symbolType":"M-1.7,-1H1.7V1H-1.7Z","symbolSize":100,"labelFontSize":12.5,"labelOffset":11.5,"rowPadding":1,"symbolStrokeWidth":0}}}},
   {"mark":{"type":"rule","color":"#222","strokeWidth":1},"encoding":{"y":{"field":"lo","type":"quantitative"},"y2":{"field":"hi"}}},
   {"mark":{"type":"tick","orient":"horizontal","size":6,"thickness":1,"color":"#222"},"encoding":{"y":{"field":"lo","type":"quantitative"}}},
   {"mark":{"type":"tick","orient":"horizontal","size":6,"thickness":1,"color":"#222"},"encoding":{"y":{"field":"hi","type":"quantitative"}}},
   {"mark":{"type":"text","baseline":"alphabetic","fontSize":18,"color":"#1a1a1a"},"encoding":{"y":{"field":"hi","type":"quantitative"},"text":{"field":"sig"}}}
  ]
 },
 {
  "width":300,"height":257,
  "title":{"text":"D","dx":-75,"dy":89},
  "data":{"name":"D1"},
  "encoding":{
   "x":{"field":"cell","type":"nominal","scale":{"domain":["SKMES1","CALU3"],"range":[0,161],"paddingInner":0.3,"paddingOuter":0.19},"axis":{"title":null,"labelAngle":0,"ticks":false,"labelPadding":2,"labelFontSize":15}},
   "xOffset":{"field":"grp","type":"nominal","scale":{"domain":["Ad-NC","Ad-USP47"]}}
  },
  "layer":[
   {"mark":{"type":"bar"},"encoding":{"y":{"field":"mean","type":"quantitative","scale":{"domain":[0,2.5],"range":[257,105],"nice":false},"axis":{"values":[0,0.5,1,1.5,2,2.5],"tickCount":20,"format":".1f","title":["Relative glucose","consumption"],"titleLineHeight":18,"titleFontSize":16,"labelFontSize":16,"minExtent":31,"maxExtent":31,"titlePadding":0}},"color":{"field":"grp","type":"nominal","scale":{"domain":["Ad-NC","Ad-USP47"],"range":["#F06AB0","#0D4D9D"]},"legend":{"orient":"none","legendX":9.5,"legendY":101,"title":null,"symbolType":"M-1.7,-1H1.7V1H-1.7Z","symbolSize":100,"labelFontSize":12.5,"labelOffset":11.5,"rowPadding":1,"symbolStrokeWidth":0}}}},
   {"mark":{"type":"rule","color":"#222","strokeWidth":1},"encoding":{"y":{"field":"lo","type":"quantitative"},"y2":{"field":"hi"}}},
   {"mark":{"type":"tick","orient":"horizontal","size":6,"thickness":1,"color":"#222"},"encoding":{"y":{"field":"lo","type":"quantitative"}}},
   {"mark":{"type":"tick","orient":"horizontal","size":6,"thickness":1,"color":"#222"},"encoding":{"y":{"field":"hi","type":"quantitative"}}},
   {"mark":{"type":"text","baseline":"alphabetic","fontSize":18,"color":"#1a1a1a"},"encoding":{"y":{"field":"hi","type":"quantitative"},"text":{"field":"sig"}}}
  ]
 },
 {
  "width":175,"height":257,
  "data":{"name":"D2"},
  "encoding":{
   "x":{"field":"cell","type":"nominal","scale":{"domain":["A549","NCI-H1299"],"range":[0,159],"paddingInner":0.32,"paddingOuter":0.2},"axis":{"title":null,"labelAngle":0,"ticks":false,"labelPadding":2,"labelFontSize":15}},
   "xOffset":{"field":"grp","type":"nominal","scale":{"domain":["Ad-shNC","Ad-shUSP47 #1"]}}
  },
  "layer":[
   {"mark":{"type":"bar"},"encoding":{"y":{"field":"mean","type":"quantitative","scale":{"domain":[0,1.5],"range":[257,105],"nice":false},"axis":{"values":[0,0.5,1,1.5],"tickCount":20,"format":".1f","title":["Relative glucose","consumption"],"titleLineHeight":18,"titleFontSize":16,"labelFontSize":16,"minExtent":30,"maxExtent":30,"titlePadding":0}},"color":{"field":"grp","type":"nominal","scale":{"domain":["Ad-shNC","Ad-shUSP47 #1"],"range":["#8BA9D5","#6FC993"]},"legend":{"orient":"none","legendX":13.5,"legendY":101,"title":null,"symbolType":"M-1.7,-1H1.7V1H-1.7Z","symbolSize":100,"labelFontSize":12.5,"labelOffset":11.5,"rowPadding":1,"symbolStrokeWidth":0}}}},
   {"mark":{"type":"rule","color":"#222","strokeWidth":1},"encoding":{"y":{"field":"lo","type":"quantitative"},"y2":{"field":"hi"}}},
   {"mark":{"type":"tick","orient":"horizontal","size":6,"thickness":1,"color":"#222"},"encoding":{"y":{"field":"lo","type":"quantitative"}}},
   {"mark":{"type":"tick","orient":"horizontal","size":6,"thickness":1,"color":"#222"},"encoding":{"y":{"field":"hi","type":"quantitative"}}},
   {"mark":{"type":"text","baseline":"alphabetic","fontSize":18,"color":"#1a1a1a"},"encoding":{"y":{"field":"hi","type":"quantitative"},"text":{"field":"sig"}}}
  ]
 },
 {
  "width":282,"height":223,
  "title":{"text":"E","dx":-57,"dy":69},
  "layer":[
   {"data":{"name":"E1"},"mark":{"type":"line","strokeWidth":1.5},"encoding":{
     "x":{"field":"t","type":"quantitative","scale":{"domain":[-4.5,79],"range":[0,164],"nice":false,"zero":false},"axis":{"values":[0,14,28,42,56,70],"tickCount":20,"labelFlush":false,"labelOverlap":false,"labelFontSize":14.5,"title":"SKMES1","titleFontSize":16.5,"titlePadding":1}},
     "y":{"field":"m","type":"quantitative","scale":{"domain":[0,180],"range":[223,70],"nice":false,"zero":false},"axis":{"values":[0,60,120,180],"tickCount":20,"title":"ECAR (mPH/min)","titleFontSize":17,"labelFontSize":16,"minExtent":42.6,"maxExtent":42.6,"titlePadding":0}},
     "color":{"field":"s","type":"nominal","scale":{"domain":["Ad-NC","Ad-USP47"],"range":["#1a1a1a","#1a1a1a"]},"legend":{"orient":"none","legendX":3,"legendY":67,"title":null,"symbolSize":100,"labelFontSize":13,"labelOffset":12,"rowPadding":-2,"encode":{"symbols":{"update":{"shape":{"signal":"datum.value === 'Ad-NC' ? 'M-1.7,-0.15H1.7V0.15H-1.7Z M-0.75,0A0.75,0.75 0 1,1 0.75,0A0.75,0.75 0 1,1 -0.75,0Z' : 'M-1.7,-0.15H1.7V0.15H-1.7Z M-0.7,-0.7H0.7V0.7H-0.7Z'"},"fill":{"signal":"datum.value === 'Ad-NC' ? '#F06AB0' : '#0D4D9D'"},"stroke":{"value":"#222"},"strokeWidth":{"value":0.4},"opacity":{"value":1}}}}}}}},
   {"data":{"name":"E1"},"mark":{"type":"rule","strokeWidth":1.3},"encoding":{"x":{"field":"t","type":"quantitative"},"y":{"field":"lo","type":"quantitative"},"y2":{"field":"hi"},"color":{"condition":{"test":"datum.s === 'Ad-NC'","value":"#F06AB0"},"value":"#0D4D9D"}}},
   {"data":{"name":"E1"},"mark":{"type":"tick","orient":"horizontal","size":7,"thickness":1.3},"encoding":{"x":{"field":"t","type":"quantitative"},"y":{"field":"lo","type":"quantitative"},"color":{"condition":{"test":"datum.s === 'Ad-NC'","value":"#F06AB0"},"value":"#0D4D9D"}}},
   {"data":{"name":"E1"},"mark":{"type":"tick","orient":"horizontal","size":7,"thickness":1.3},"encoding":{"x":{"field":"t","type":"quantitative"},"y":{"field":"hi","type":"quantitative"},"color":{"condition":{"test":"datum.s === 'Ad-NC'","value":"#F06AB0"},"value":"#0D4D9D"}}},
   {"data":{"name":"E1"},"mark":{"type":"point","filled":true,"opacity":1,"size":45},"encoding":{"x":{"field":"t","type":"quantitative"},"y":{"field":"m","type":"quantitative"},"color":{"condition":{"test":"datum.s === 'Ad-NC'","value":"#F06AB0"},"value":"#0D4D9D"},"shape":{"condition":{"test":"datum.s === 'Ad-NC'","value":"circle"},"value":"square"}}},
   {"data":{"name":"E1a"},"mark":{"type":"rule","color":"#1a1a1a","strokeWidth":1.3},"encoding":{"x":{"field":"t","type":"quantitative"},"y":{"field":"ytop","type":"quantitative"},"y2":{"field":"ybot"}}},
   {"data":{"name":"E1a"},"mark":{"type":"point","shape":"M-1,-2.2L1,-2.2L0,0Z","size":64,"filled":true,"opacity":1,"color":"#1a1a1a"},"encoding":{"x":{"field":"t","type":"quantitative"},"y":{"field":"ybot","type":"quantitative"}}},
   {"data":{"name":"E1a"},"mark":{"type":"text","baseline":"bottom","dy":-1,"fontSize":11,"color":"#333"},"encoding":{"x":{"field":"t","type":"quantitative"},"y":{"field":"ytop","type":"quantitative"},"text":{"field":"label"}}},
   {"data":{"values":[{"u":"(min)"}]},"mark":{"type":"text","align":"left","baseline":"top","dx":7,"dy":7,"fontSize":12.5,"color":"#1a1a1a"},"encoding":{"x":{"datum":79},"y":{"datum":0},"text":{"field":"u"}}}
  ]
 },
 {
  "width":297,"height":223,
  "layer":[
   {"data":{"name":"E2"},"mark":{"type":"line","strokeWidth":1.5},"encoding":{
     "x":{"field":"t","type":"quantitative","scale":{"domain":[-4.5,79],"range":[0,164],"nice":false,"zero":false},"axis":{"values":[0,14,28,42,56,70],"tickCount":20,"labelFlush":false,"labelOverlap":false,"labelFontSize":14.5,"title":"CALU3","titleFontSize":16.5,"titlePadding":1}},
     "y":{"field":"m","type":"quantitative","scale":{"domain":[0,240],"range":[223,70],"nice":false,"zero":false},"axis":{"values":[0,60,120,180,240],"tickCount":20,"title":"ECAR (mPH/min)","titleFontSize":17,"labelFontSize":16,"minExtent":38,"maxExtent":38,"titlePadding":0}},
     "color":{"field":"s","type":"nominal","scale":{"domain":["Ad-NC","Ad-USP47"],"range":["#1a1a1a","#1a1a1a"]},"legend":{"orient":"none","legendX":6,"legendY":65,"title":null,"symbolSize":100,"labelFontSize":13,"labelOffset":12,"rowPadding":-2,"encode":{"symbols":{"update":{"shape":{"signal":"datum.value === 'Ad-NC' ? 'M-1.7,-0.15H1.7V0.15H-1.7Z M-0.75,0A0.75,0.75 0 1,1 0.75,0A0.75,0.75 0 1,1 -0.75,0Z' : 'M-1.7,-0.15H1.7V0.15H-1.7Z M-0.7,-0.7H0.7V0.7H-0.7Z'"},"fill":{"signal":"datum.value === 'Ad-NC' ? '#F06AB0' : '#0D4D9D'"},"stroke":{"value":"#222"},"strokeWidth":{"value":0.4},"opacity":{"value":1}}}}}}}},
   {"data":{"name":"E2"},"mark":{"type":"rule","strokeWidth":1.3},"encoding":{"x":{"field":"t","type":"quantitative"},"y":{"field":"lo","type":"quantitative"},"y2":{"field":"hi"},"color":{"condition":{"test":"datum.s === 'Ad-NC'","value":"#F06AB0"},"value":"#0D4D9D"}}},
   {"data":{"name":"E2"},"mark":{"type":"tick","orient":"horizontal","size":7,"thickness":1.3},"encoding":{"x":{"field":"t","type":"quantitative"},"y":{"field":"lo","type":"quantitative"},"color":{"condition":{"test":"datum.s === 'Ad-NC'","value":"#F06AB0"},"value":"#0D4D9D"}}},
   {"data":{"name":"E2"},"mark":{"type":"tick","orient":"horizontal","size":7,"thickness":1.3},"encoding":{"x":{"field":"t","type":"quantitative"},"y":{"field":"hi","type":"quantitative"},"color":{"condition":{"test":"datum.s === 'Ad-NC'","value":"#F06AB0"},"value":"#0D4D9D"}}},
   {"data":{"name":"E2"},"mark":{"type":"point","filled":true,"opacity":1,"size":45},"encoding":{"x":{"field":"t","type":"quantitative"},"y":{"field":"m","type":"quantitative"},"color":{"condition":{"test":"datum.s === 'Ad-NC'","value":"#F06AB0"},"value":"#0D4D9D"},"shape":{"condition":{"test":"datum.s === 'Ad-NC'","value":"circle"},"value":"square"}}},
   {"data":{"name":"E2a"},"mark":{"type":"rule","color":"#1a1a1a","strokeWidth":1.3},"encoding":{"x":{"field":"t","type":"quantitative"},"y":{"field":"ytop","type":"quantitative"},"y2":{"field":"ybot"}}},
   {"data":{"name":"E2a"},"mark":{"type":"point","shape":"M-1,-2.2L1,-2.2L0,0Z","size":64,"filled":true,"opacity":1,"color":"#1a1a1a"},"encoding":{"x":{"field":"t","type":"quantitative"},"y":{"field":"ybot","type":"quantitative"}}},
   {"data":{"name":"E2a"},"mark":{"type":"text","baseline":"bottom","dy":-1,"fontSize":11,"color":"#333"},"encoding":{"x":{"field":"t","type":"quantitative"},"y":{"field":"ytop","type":"quantitative"},"text":{"field":"label"}}},
   {"data":{"values":[{"u":"(min)"}]},"mark":{"type":"text","align":"left","baseline":"top","dx":7,"dy":7,"fontSize":12.5,"color":"#1a1a1a"},"encoding":{"x":{"datum":79},"y":{"datum":0},"text":{"field":"u"}}}
  ]
 },
 {
  "width":300,"height":223,
  "layer":[
   {"data":{"name":"E3"},"mark":{"type":"line","strokeWidth":1.5},"encoding":{
     "x":{"field":"t","type":"quantitative","scale":{"domain":[-4.5,79],"range":[0,164],"nice":false,"zero":false},"axis":{"values":[0,14,28,42,56,70],"tickCount":20,"labelFlush":false,"labelOverlap":false,"labelFontSize":14.5,"title":"A549","titleFontSize":16.5,"titlePadding":1}},
     "y":{"field":"m","type":"quantitative","scale":{"domain":[0,210],"range":[223,70],"nice":false,"zero":false},"axis":{"values":[0,70,140,210],"tickCount":20,"title":"ECAR (mPH/min)","titleFontSize":17,"labelFontSize":16,"minExtent":39,"maxExtent":39,"titlePadding":0}},
     "color":{"field":"s","type":"nominal","scale":{"domain":["Ad-shNC","Ad-shUSP47 #1"],"range":["#1a1a1a","#1a1a1a"]},"legend":{"orient":"none","legendX":6.5,"legendY":67,"title":null,"symbolSize":100,"labelFontSize":13,"labelOffset":12,"rowPadding":-2,"encode":{"symbols":{"update":{"shape":{"signal":"datum.value === 'Ad-shNC' ? 'M-1.7,-0.15H1.7V0.15H-1.7Z M-0.75,0A0.75,0.75 0 1,1 0.75,0A0.75,0.75 0 1,1 -0.75,0Z' : 'M-1.7,-0.15H1.7V0.15H-1.7Z M-0.7,-0.7H0.7V0.7H-0.7Z'"},"fill":{"signal":"datum.value === 'Ad-shNC' ? '#8BA9D5' : '#6FC993'"},"stroke":{"value":"#222"},"strokeWidth":{"value":0.4},"opacity":{"value":1}}}}}}}},
   {"data":{"name":"E3"},"mark":{"type":"rule","strokeWidth":1.3},"encoding":{"x":{"field":"t","type":"quantitative"},"y":{"field":"lo","type":"quantitative"},"y2":{"field":"hi"},"color":{"condition":{"test":"datum.s === 'Ad-shNC'","value":"#8BA9D5"},"value":"#6FC993"}}},
   {"data":{"name":"E3"},"mark":{"type":"tick","orient":"horizontal","size":7,"thickness":1.3},"encoding":{"x":{"field":"t","type":"quantitative"},"y":{"field":"lo","type":"quantitative"},"color":{"condition":{"test":"datum.s === 'Ad-shNC'","value":"#8BA9D5"},"value":"#6FC993"}}},
   {"data":{"name":"E3"},"mark":{"type":"tick","orient":"horizontal","size":7,"thickness":1.3},"encoding":{"x":{"field":"t","type":"quantitative"},"y":{"field":"hi","type":"quantitative"},"color":{"condition":{"test":"datum.s === 'Ad-shNC'","value":"#8BA9D5"},"value":"#6FC993"}}},
   {"data":{"name":"E3"},"mark":{"type":"point","filled":true,"opacity":1,"size":45},"encoding":{"x":{"field":"t","type":"quantitative"},"y":{"field":"m","type":"quantitative"},"color":{"condition":{"test":"datum.s === 'Ad-shNC'","value":"#8BA9D5"},"value":"#6FC993"},"shape":{"condition":{"test":"datum.s === 'Ad-shNC'","value":"circle"},"value":"square"}}},
   {"data":{"name":"E3a"},"mark":{"type":"rule","color":"#1a1a1a","strokeWidth":1.3},"encoding":{"x":{"field":"t","type":"quantitative"},"y":{"field":"ytop","type":"quantitative"},"y2":{"field":"ybot"}}},
   {"data":{"name":"E3a"},"mark":{"type":"point","shape":"M-1,-2.2L1,-2.2L0,0Z","size":64,"filled":true,"opacity":1,"color":"#1a1a1a"},"encoding":{"x":{"field":"t","type":"quantitative"},"y":{"field":"ybot","type":"quantitative"}}},
   {"data":{"name":"E3a"},"mark":{"type":"text","baseline":"bottom","dy":-1,"fontSize":11,"color":"#333"},"encoding":{"x":{"field":"t","type":"quantitative"},"y":{"field":"ytop","type":"quantitative"},"text":{"field":"label"}}},
   {"data":{"values":[{"u":"(min)"}]},"mark":{"type":"text","align":"left","baseline":"top","dx":7,"dy":7,"fontSize":12.5,"color":"#1a1a1a"},"encoding":{"x":{"datum":79},"y":{"datum":0},"text":{"field":"u"}}}
  ]
 },
 {
  "width":175,"height":223,
  "layer":[
   {"data":{"name":"E4"},"mark":{"type":"line","strokeWidth":1.5},"encoding":{
     "x":{"field":"t","type":"quantitative","scale":{"domain":[-4.5,79],"range":[0,164],"nice":false,"zero":false},"axis":{"values":[0,14,28,42,56,70],"tickCount":20,"labelFlush":false,"labelOverlap":false,"labelFontSize":14.5,"title":"NCI-H1299","titleFontSize":16.5,"titlePadding":1}},
     "y":{"field":"m","type":"quantitative","scale":{"domain":[0,250],"range":[223,70],"nice":false,"zero":false},"axis":{"values":[0,50,100,150,200,250],"tickCount":20,"title":"ECAR (mPH/min)","titleFontSize":17,"labelFontSize":16,"minExtent":38,"maxExtent":38,"titlePadding":0}},
     "color":{"field":"s","type":"nominal","scale":{"domain":["Ad-shNC","Ad-shUSP47 #1"],"range":["#1a1a1a","#1a1a1a"]},"legend":{"orient":"none","legendX":6,"legendY":66,"title":null,"symbolSize":100,"labelFontSize":13,"labelOffset":12,"rowPadding":-2,"encode":{"symbols":{"update":{"shape":{"signal":"datum.value === 'Ad-shNC' ? 'M-1.7,-0.15H1.7V0.15H-1.7Z M-0.75,0A0.75,0.75 0 1,1 0.75,0A0.75,0.75 0 1,1 -0.75,0Z' : 'M-1.7,-0.15H1.7V0.15H-1.7Z M-0.7,-0.7H0.7V0.7H-0.7Z'"},"fill":{"signal":"datum.value === 'Ad-shNC' ? '#8BA9D5' : '#6FC993'"},"stroke":{"value":"#222"},"strokeWidth":{"value":0.4},"opacity":{"value":1}}}}}}}},
   {"data":{"name":"E4"},"mark":{"type":"rule","strokeWidth":1.3},"encoding":{"x":{"field":"t","type":"quantitative"},"y":{"field":"lo","type":"quantitative"},"y2":{"field":"hi"},"color":{"condition":{"test":"datum.s === 'Ad-shNC'","value":"#8BA9D5"},"value":"#6FC993"}}},
   {"data":{"name":"E4"},"mark":{"type":"tick","orient":"horizontal","size":7,"thickness":1.3},"encoding":{"x":{"field":"t","type":"quantitative"},"y":{"field":"lo","type":"quantitative"},"color":{"condition":{"test":"datum.s === 'Ad-shNC'","value":"#8BA9D5"},"value":"#6FC993"}}},
   {"data":{"name":"E4"},"mark":{"type":"tick","orient":"horizontal","size":7,"thickness":1.3},"encoding":{"x":{"field":"t","type":"quantitative"},"y":{"field":"hi","type":"quantitative"},"color":{"condition":{"test":"datum.s === 'Ad-shNC'","value":"#8BA9D5"},"value":"#6FC993"}}},
   {"data":{"name":"E4"},"mark":{"type":"point","filled":true,"opacity":1,"size":45},"encoding":{"x":{"field":"t","type":"quantitative"},"y":{"field":"m","type":"quantitative"},"color":{"condition":{"test":"datum.s === 'Ad-shNC'","value":"#8BA9D5"},"value":"#6FC993"},"shape":{"condition":{"test":"datum.s === 'Ad-shNC'","value":"circle"},"value":"square"}}},
   {"data":{"name":"E4a"},"mark":{"type":"rule","color":"#1a1a1a","strokeWidth":1.3},"encoding":{"x":{"field":"t","type":"quantitative"},"y":{"field":"ytop","type":"quantitative"},"y2":{"field":"ybot"}}},
   {"data":{"name":"E4a"},"mark":{"type":"point","shape":"M-1,-2.2L1,-2.2L0,0Z","size":64,"filled":true,"opacity":1,"color":"#1a1a1a"},"encoding":{"x":{"field":"t","type":"quantitative"},"y":{"field":"ybot","type":"quantitative"}}},
   {"data":{"name":"E4a"},"mark":{"type":"text","baseline":"bottom","dy":-1,"fontSize":11,"color":"#333"},"encoding":{"x":{"field":"t","type":"quantitative"},"y":{"field":"ytop","type":"quantitative"},"text":{"field":"label"}}},
   {"data":{"values":[{"u":"(min)"}]},"mark":{"type":"text","align":"left","baseline":"top","dx":7,"dy":7,"fontSize":12.5,"color":"#1a1a1a"},"encoding":{"x":{"datum":79},"y":{"datum":0},"text":{"field":"u"}}}
  ]
 },
 {
  "width":282,"height":243,
  "title":{"text":"F","dx":-59,"dy":100},
  "layer":[
   {"data":{"name":"F1"},"mark":{"type":"line","strokeWidth":1.5},"encoding":{
     "x":{"field":"t","type":"quantitative","scale":{"domain":[-5,79],"range":[0,168],"nice":false,"zero":false},"axis":{"values":[0,14,28,42,56,70],"tickCount":20,"labelFlush":false,"labelOverlap":false,"labelFontSize":14,"title":"SKMES1","titleFontSize":16.5,"titlePadding":8}},
     "y":{"field":"m","type":"quantitative","scale":{"domain":[0,180],"range":[243,89],"nice":false,"zero":false},"axis":{"values":[0,60,120,180],"tickCount":20,"title":"OCR (pmol/min)","titleFontSize":18,"labelFontSize":16,"minExtent":38.6,"maxExtent":38.6,"titlePadding":0}},
     "color":{"field":"s","type":"nominal","scale":{"domain":["Ad-NC","Ad-USP47"],"range":["#1a1a1a","#1a1a1a"]},"legend":{"orient":"none","legendX":7,"legendY":85,"title":null,"symbolSize":100,"labelFontSize":13,"labelOffset":12,"rowPadding":-2,"encode":{"symbols":{"update":{"shape":{"signal":"datum.value === 'Ad-NC' ? 'M-1.7,-0.15H1.7V0.15H-1.7Z M-0.75,0A0.75,0.75 0 1,1 0.75,0A0.75,0.75 0 1,1 -0.75,0Z' : 'M-1.7,-0.15H1.7V0.15H-1.7Z M-0.7,-0.7H0.7V0.7H-0.7Z'"},"fill":{"signal":"datum.value === 'Ad-NC' ? '#F06AB0' : '#0D4D9D'"},"stroke":{"value":"#222"},"strokeWidth":{"value":0.4},"opacity":{"value":1}}}}}}}},
   {"data":{"name":"F1"},"mark":{"type":"rule","strokeWidth":1.3},"encoding":{"x":{"field":"t","type":"quantitative"},"y":{"field":"lo","type":"quantitative"},"y2":{"field":"hi"},"color":{"condition":{"test":"datum.s === 'Ad-NC'","value":"#F06AB0"},"value":"#0D4D9D"}}},
   {"data":{"name":"F1"},"mark":{"type":"tick","orient":"horizontal","size":7,"thickness":1.3},"encoding":{"x":{"field":"t","type":"quantitative"},"y":{"field":"lo","type":"quantitative"},"color":{"condition":{"test":"datum.s === 'Ad-NC'","value":"#F06AB0"},"value":"#0D4D9D"}}},
   {"data":{"name":"F1"},"mark":{"type":"tick","orient":"horizontal","size":7,"thickness":1.3},"encoding":{"x":{"field":"t","type":"quantitative"},"y":{"field":"hi","type":"quantitative"},"color":{"condition":{"test":"datum.s === 'Ad-NC'","value":"#F06AB0"},"value":"#0D4D9D"}}},
   {"data":{"name":"F1"},"mark":{"type":"point","filled":true,"opacity":1,"size":45},"encoding":{"x":{"field":"t","type":"quantitative"},"y":{"field":"m","type":"quantitative"},"color":{"condition":{"test":"datum.s === 'Ad-NC'","value":"#F06AB0"},"value":"#0D4D9D"},"shape":{"condition":{"test":"datum.s === 'Ad-NC'","value":"circle"},"value":"square"}}},
   {"data":{"name":"F1a"},"mark":{"type":"rule","color":"#1a1a1a","strokeWidth":1.3},"encoding":{"x":{"field":"t","type":"quantitative"},"y":{"field":"ytop","type":"quantitative"},"y2":{"field":"ybot"}}},
   {"data":{"name":"F1a"},"mark":{"type":"point","shape":"M-1,-2.2L1,-2.2L0,0Z","size":64,"filled":true,"opacity":1,"color":"#1a1a1a"},"encoding":{"x":{"field":"t","type":"quantitative"},"y":{"field":"ybot","type":"quantitative"}}},
   {"data":{"name":"F1a"},"mark":{"type":"text","baseline":"bottom","dy":-1,"fontSize":11,"color":"#333"},"encoding":{"x":{"field":"t","type":"quantitative"},"y":{"field":"ytop","type":"quantitative"},"text":{"field":"label"}}},
   {"data":{"values":[{"u":"(min)"}]},"mark":{"type":"text","align":"left","baseline":"top","dx":7,"dy":7,"fontSize":12.5,"color":"#1a1a1a"},"encoding":{"x":{"datum":79},"y":{"datum":0},"text":{"field":"u"}}}
  ]
 },
 {
  "width":297,"height":243,
  "layer":[
   {"data":{"name":"F2"},"mark":{"type":"line","strokeWidth":1.5},"encoding":{
     "x":{"field":"t","type":"quantitative","scale":{"domain":[-5,79],"range":[0,168],"nice":false,"zero":false},"axis":{"values":[0,14,28,42,56,70],"tickCount":20,"labelFlush":false,"labelOverlap":false,"labelFontSize":14,"title":"CALU3","titleFontSize":16.5,"titlePadding":8}},
     "y":{"field":"m","type":"quantitative","scale":{"domain":[0,150],"range":[243,89],"nice":false,"zero":false},"axis":{"values":[0,50,100,150],"tickCount":20,"title":"OCR (pmol/min)","titleFontSize":18,"labelFontSize":16,"minExtent":34,"maxExtent":34,"titlePadding":0}},
     "color":{"field":"s","type":"nominal","scale":{"domain":["Ad-NC","Ad-USP47"],"range":["#1a1a1a","#1a1a1a"]},"legend":{"orient":"none","legendX":12,"legendY":85,"title":null,"symbolSize":100,"labelFontSize":13,"labelOffset":12,"rowPadding":-2,"encode":{"symbols":{"update":{"shape":{"signal":"datum.value === 'Ad-NC' ? 'M-1.7,-0.15H1.7V0.15H-1.7Z M-0.75,0A0.75,0.75 0 1,1 0.75,0A0.75,0.75 0 1,1 -0.75,0Z' : 'M-1.7,-0.15H1.7V0.15H-1.7Z M-0.7,-0.7H0.7V0.7H-0.7Z'"},"fill":{"signal":"datum.value === 'Ad-NC' ? '#F06AB0' : '#0D4D9D'"},"stroke":{"value":"#222"},"strokeWidth":{"value":0.4},"opacity":{"value":1}}}}}}}},
   {"data":{"name":"F2"},"mark":{"type":"rule","strokeWidth":1.3},"encoding":{"x":{"field":"t","type":"quantitative"},"y":{"field":"lo","type":"quantitative"},"y2":{"field":"hi"},"color":{"condition":{"test":"datum.s === 'Ad-NC'","value":"#F06AB0"},"value":"#0D4D9D"}}},
   {"data":{"name":"F2"},"mark":{"type":"tick","orient":"horizontal","size":7,"thickness":1.3},"encoding":{"x":{"field":"t","type":"quantitative"},"y":{"field":"lo","type":"quantitative"},"color":{"condition":{"test":"datum.s === 'Ad-NC'","value":"#F06AB0"},"value":"#0D4D9D"}}},
   {"data":{"name":"F2"},"mark":{"type":"tick","orient":"horizontal","size":7,"thickness":1.3},"encoding":{"x":{"field":"t","type":"quantitative"},"y":{"field":"hi","type":"quantitative"},"color":{"condition":{"test":"datum.s === 'Ad-NC'","value":"#F06AB0"},"value":"#0D4D9D"}}},
   {"data":{"name":"F2"},"mark":{"type":"point","filled":true,"opacity":1,"size":45},"encoding":{"x":{"field":"t","type":"quantitative"},"y":{"field":"m","type":"quantitative"},"color":{"condition":{"test":"datum.s === 'Ad-NC'","value":"#F06AB0"},"value":"#0D4D9D"},"shape":{"condition":{"test":"datum.s === 'Ad-NC'","value":"circle"},"value":"square"}}},
   {"data":{"name":"F2a"},"mark":{"type":"rule","color":"#1a1a1a","strokeWidth":1.3},"encoding":{"x":{"field":"t","type":"quantitative"},"y":{"field":"ytop","type":"quantitative"},"y2":{"field":"ybot"}}},
   {"data":{"name":"F2a"},"mark":{"type":"point","shape":"M-1,-2.2L1,-2.2L0,0Z","size":64,"filled":true,"opacity":1,"color":"#1a1a1a"},"encoding":{"x":{"field":"t","type":"quantitative"},"y":{"field":"ybot","type":"quantitative"}}},
   {"data":{"name":"F2a"},"mark":{"type":"text","baseline":"bottom","dy":-1,"fontSize":11,"color":"#333"},"encoding":{"x":{"field":"t","type":"quantitative"},"y":{"field":"ytop","type":"quantitative"},"text":{"field":"label"}}},
   {"data":{"values":[{"u":"(min)"}]},"mark":{"type":"text","align":"left","baseline":"top","dx":7,"dy":7,"fontSize":12.5,"color":"#1a1a1a"},"encoding":{"x":{"datum":79},"y":{"datum":0},"text":{"field":"u"}}}
  ]
 },
 {
  "width":300,"height":243,
  "layer":[
   {"data":{"name":"F3"},"mark":{"type":"line","strokeWidth":1.5},"encoding":{
     "x":{"field":"t","type":"quantitative","scale":{"domain":[-5,79],"range":[0,168],"nice":false,"zero":false},"axis":{"values":[0,14,28,42,56,70],"tickCount":20,"labelFlush":false,"labelOverlap":false,"labelFontSize":14,"title":"A549","titleFontSize":16.5,"titlePadding":8}},
     "y":{"field":"m","type":"quantitative","scale":{"domain":[0,200],"range":[243,89],"nice":false,"zero":false},"axis":{"values":[0,50,100,150,200],"tickCount":20,"title":"OCR (pmol/min)","titleFontSize":18,"labelFontSize":16,"minExtent":37.6,"maxExtent":37.6,"titlePadding":0}},
     "color":{"field":"s","type":"nominal","scale":{"domain":["Ad-NC","Ad-USP47"],"range":["#1a1a1a","#1a1a1a"]},"legend":{"orient":"none","legendX":9,"legendY":85,"title":null,"symbolSize":100,"labelFontSize":13,"labelOffset":12,"rowPadding":-2,"encode":{"symbols":{"update":{"shape":{"signal":"datum.value === 'Ad-NC' ? 'M-1.7,-0.15H1.7V0.15H-1.7Z M-0.75,0A0.75,0.75 0 1,1 0.75,0A0.75,0.75 0 1,1 -0.75,0Z' : 'M-1.7,-0.15H1.7V0.15H-1.7Z M-0.7,-0.7H0.7V0.7H-0.7Z'"},"fill":{"signal":"datum.value === 'Ad-NC' ? '#8BA9D5' : '#6FC993'"},"stroke":{"value":"#222"},"strokeWidth":{"value":0.4},"opacity":{"value":1}}}}}}}},
   {"data":{"name":"F3"},"mark":{"type":"rule","strokeWidth":1.3},"encoding":{"x":{"field":"t","type":"quantitative"},"y":{"field":"lo","type":"quantitative"},"y2":{"field":"hi"},"color":{"condition":{"test":"datum.s === 'Ad-NC'","value":"#8BA9D5"},"value":"#6FC993"}}},
   {"data":{"name":"F3"},"mark":{"type":"tick","orient":"horizontal","size":7,"thickness":1.3},"encoding":{"x":{"field":"t","type":"quantitative"},"y":{"field":"lo","type":"quantitative"},"color":{"condition":{"test":"datum.s === 'Ad-NC'","value":"#8BA9D5"},"value":"#6FC993"}}},
   {"data":{"name":"F3"},"mark":{"type":"tick","orient":"horizontal","size":7,"thickness":1.3},"encoding":{"x":{"field":"t","type":"quantitative"},"y":{"field":"hi","type":"quantitative"},"color":{"condition":{"test":"datum.s === 'Ad-NC'","value":"#8BA9D5"},"value":"#6FC993"}}},
   {"data":{"name":"F3"},"mark":{"type":"point","filled":true,"opacity":1,"size":45},"encoding":{"x":{"field":"t","type":"quantitative"},"y":{"field":"m","type":"quantitative"},"color":{"condition":{"test":"datum.s === 'Ad-NC'","value":"#8BA9D5"},"value":"#6FC993"},"shape":{"condition":{"test":"datum.s === 'Ad-NC'","value":"circle"},"value":"square"}}},
   {"data":{"name":"F3a"},"mark":{"type":"rule","color":"#1a1a1a","strokeWidth":1.3},"encoding":{"x":{"field":"t","type":"quantitative"},"y":{"field":"ytop","type":"quantitative"},"y2":{"field":"ybot"}}},
   {"data":{"name":"F3a"},"mark":{"type":"point","shape":"M-1,-2.2L1,-2.2L0,0Z","size":64,"filled":true,"opacity":1,"color":"#1a1a1a"},"encoding":{"x":{"field":"t","type":"quantitative"},"y":{"field":"ybot","type":"quantitative"}}},
   {"data":{"name":"F3a"},"mark":{"type":"text","baseline":"bottom","dy":-1,"fontSize":11,"color":"#333"},"encoding":{"x":{"field":"t","type":"quantitative"},"y":{"field":"ytop","type":"quantitative"},"text":{"field":"label"}}},
   {"data":{"values":[{"u":"(min)"}]},"mark":{"type":"text","align":"left","baseline":"top","dx":7,"dy":7,"fontSize":12.5,"color":"#1a1a1a"},"encoding":{"x":{"datum":79},"y":{"datum":0},"text":{"field":"u"}}}
  ]
 },
 {
  "width":175,"height":243,
  "layer":[
   {"data":{"name":"F4"},"mark":{"type":"line","strokeWidth":1.5},"encoding":{
     "x":{"field":"t","type":"quantitative","scale":{"domain":[-8.5,79],"range":[0,175],"nice":false,"zero":false},"axis":{"values":[0,14,28,42,56,70],"tickCount":20,"labelFlush":false,"labelOverlap":false,"labelFontSize":14,"title":"NCI-H1299","titleFontSize":16.5,"titlePadding":8}},
     "y":{"field":"m","type":"quantitative","scale":{"domain":[0,200],"range":[243,89],"nice":false,"zero":false},"axis":{"values":[0,50,100,150,200],"tickCount":20,"title":"OCR (pmol/min)","titleFontSize":18,"labelFontSize":16,"minExtent":35,"maxExtent":35,"titlePadding":0}},
     "color":{"field":"s","type":"nominal","scale":{"domain":["Ad-NC","Ad-USP47"],"range":["#1a1a1a","#1a1a1a"]},"legend":{"orient":"none","legendX":17,"legendY":85,"title":null,"symbolSize":100,"labelFontSize":13,"labelOffset":12,"rowPadding":-2,"encode":{"symbols":{"update":{"shape":{"signal":"datum.value === 'Ad-NC' ? 'M-1.7,-0.15H1.7V0.15H-1.7Z M-0.75,0A0.75,0.75 0 1,1 0.75,0A0.75,0.75 0 1,1 -0.75,0Z' : 'M-1.7,-0.15H1.7V0.15H-1.7Z M-0.7,-0.7H0.7V0.7H-0.7Z'"},"fill":{"signal":"datum.value === 'Ad-NC' ? '#8BA9D5' : '#6FC993'"},"stroke":{"value":"#222"},"strokeWidth":{"value":0.4},"opacity":{"value":1}}}}}}}},
   {"data":{"name":"F4"},"mark":{"type":"rule","strokeWidth":1.3},"encoding":{"x":{"field":"t","type":"quantitative"},"y":{"field":"lo","type":"quantitative"},"y2":{"field":"hi"},"color":{"condition":{"test":"datum.s === 'Ad-NC'","value":"#8BA9D5"},"value":"#6FC993"}}},
   {"data":{"name":"F4"},"mark":{"type":"tick","orient":"horizontal","size":7,"thickness":1.3},"encoding":{"x":{"field":"t","type":"quantitative"},"y":{"field":"lo","type":"quantitative"},"color":{"condition":{"test":"datum.s === 'Ad-NC'","value":"#8BA9D5"},"value":"#6FC993"}}},
   {"data":{"name":"F4"},"mark":{"type":"tick","orient":"horizontal","size":7,"thickness":1.3},"encoding":{"x":{"field":"t","type":"quantitative"},"y":{"field":"hi","type":"quantitative"},"color":{"condition":{"test":"datum.s === 'Ad-NC'","value":"#8BA9D5"},"value":"#6FC993"}}},
   {"data":{"name":"F4"},"mark":{"type":"point","filled":true,"opacity":1,"size":45},"encoding":{"x":{"field":"t","type":"quantitative"},"y":{"field":"m","type":"quantitative"},"color":{"condition":{"test":"datum.s === 'Ad-NC'","value":"#8BA9D5"},"value":"#6FC993"},"shape":{"condition":{"test":"datum.s === 'Ad-NC'","value":"circle"},"value":"square"}}},
   {"data":{"name":"F4a"},"mark":{"type":"rule","color":"#1a1a1a","strokeWidth":1.3},"encoding":{"x":{"field":"t","type":"quantitative"},"y":{"field":"ytop","type":"quantitative"},"y2":{"field":"ybot"}}},
   {"data":{"name":"F4a"},"mark":{"type":"point","shape":"M-1,-2.2L1,-2.2L0,0Z","size":64,"filled":true,"opacity":1,"color":"#1a1a1a"},"encoding":{"x":{"field":"t","type":"quantitative"},"y":{"field":"ybot","type":"quantitative"}}},
   {"data":{"name":"F4a"},"mark":{"type":"text","baseline":"bottom","dy":-1,"fontSize":11,"color":"#333"},"encoding":{"x":{"field":"t","type":"quantitative"},"y":{"field":"ytop","type":"quantitative"},"text":{"field":"label"}}},
   {"data":{"values":[{"u":"(min)"}]},"mark":{"type":"text","align":"left","baseline":"top","dx":5,"dy":7,"fontSize":12.5,"color":"#1a1a1a"},"encoding":{"x":{"datum":79},"y":{"datum":0},"text":{"field":"u"}}}
  ]
 }
]
}
